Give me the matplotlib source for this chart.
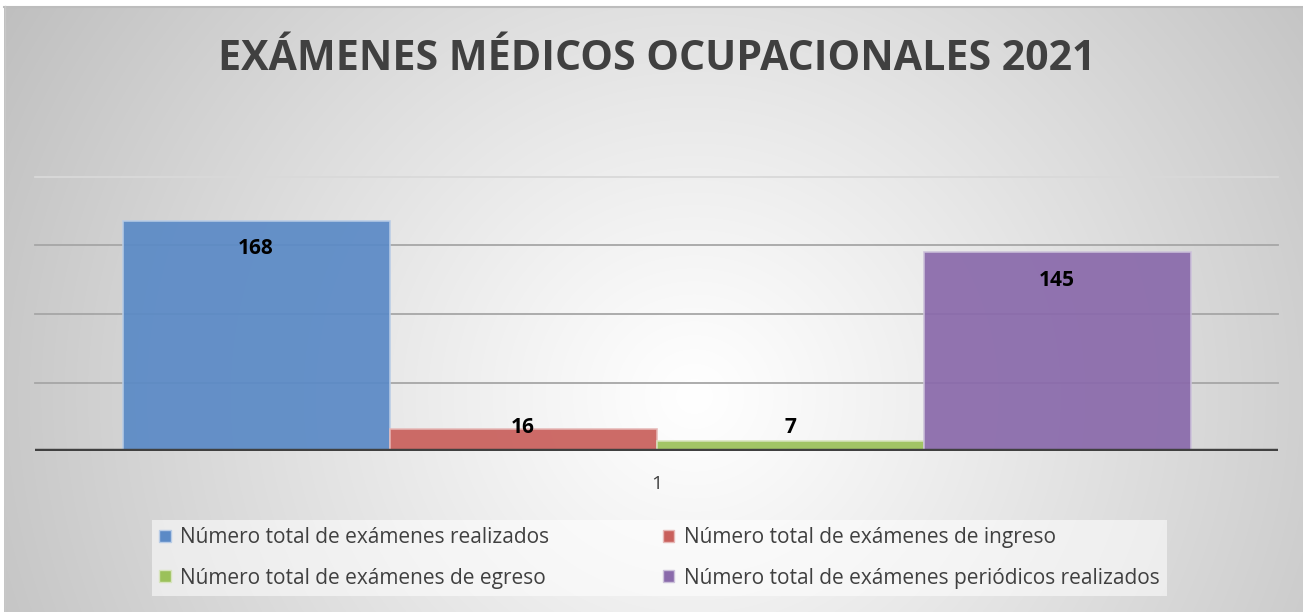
import numpy as np
import matplotlib
matplotlib.use("Agg")
import matplotlib.pyplot as plt
from matplotlib.patches import Patch

# ---- data ----
title = "EXÁMENES MÉDICOS OCUPACIONALES 2021"
series_names = [
    "Número total de exámenes realizados",
    "Número total de exámenes de ingreso",
    "Número total de exámenes de egreso",
    "Número total de exámenes periódicos realizados",
]
values = [168, 16, 7, 145]
category_label = "1"
colors = ["#5b8ac6", "#c9605c", "#9bc15a", "#8a6aab"]
edge_colors = ["#b8cce6", "#e6b8b7", "#d7e4bd", "#ccc1da"]

plt.rcParams['font.family'] = ['Open Sans', 'DejaVu Sans']

W, H = 1303, 612
fig = plt.figure(figsize=(W / 100, H / 100), dpi=100)
fig.patch.set_facecolor("white")

# background radial gradient
bg = fig.add_axes([4 / W, 0, 1 - 4 / W, 1 - 6 / H])
bg.set_axis_off()
yy, xx = np.mgrid[0:606, 0:1299]
cx, cy = 690, 390
d = np.sqrt(((xx - cx) / 1.0) ** 2 + ((yy - cy) / 0.95) ** 2)
c = 1 - 0.25 * np.clip(d / 800, 0, 1) ** 1.1
img = np.dstack([c, c, c])
bg.imshow(img, aspect="auto", extent=[0, 1, 0, 1], origin="upper")
bg.set_xlim(0, 1)
bg.set_ylim(0, 1)
fig.add_artist(plt.Line2D([4 / W, 1], [1 - 6.5 / H, 1 - 6.5 / H],
                          transform=fig.transFigure, color="#bdbdbd", lw=1.5))
fig.add_artist(plt.Line2D([4.5 / W, 4.5 / W], [0, 1 - 6 / H],
                          transform=fig.transFigure, color="#c8c8c8", lw=1))

# main axes
left, right = 35, 1278
base, top = 451, 177
ax = fig.add_axes([left / W, (H - base) / H, (right - left) / W, (base - top) / H])
ax.patch.set_alpha(0)
n = len(values)
xs = np.arange(n) - (n - 1) / 2
bw = 267
half = (right - left) / 2 / bw
ax.set_xlim(-half, half)
ax.set_ylim(0, 200)
for g, col in zip([50, 100, 150, 200], ["#a6a6a6", "#a6a6a6", "#a6a6a6", "#d9d9d9"]):
    ax.axhline(g, color=col, lw=1.3, zorder=1, clip_on=False)
bars = ax.bar(xs, values, width=1.0, color=colors, edgecolor=edge_colors,
              linewidth=1.2, alpha=0.93, zorder=2)
ax.axhline(0, color="#404040", lw=3.2, zorder=3)
for x, v in zip(xs, values):
    ly = max(v - 20.5, 17.5)
    ax.text(x, ly, str(v), ha="center", va="center", fontsize=15,
            fontweight="bold", color="black", zorder=4)
for s in ax.spines.values():
    s.set_visible(False)
ax.set_yticks([])
ax.set_xticks([0])
ax.set_xticklabels([category_label], fontsize=14, color="#404040")
ax.tick_params(axis="x", length=0, pad=17)

fig.text(657 / W, 1 - 59 / H, title, ha="center", va="center",
         fontsize=29.6, fontweight="bold", color="#404040")

# legend
handles = [Patch(facecolor=cc, edgecolor=ec, lw=1) for cc, ec in zip(colors, edge_colors)]
order = [0, 2, 1, 3]
leg = fig.legend([handles[i] for i in order], [series_names[i] for i in order],
                 ncol=2, loc="center", bbox_to_anchor=(659.5 / W, 1 - 558 / H),
                 frameon=True, fontsize=15, handlelength=0.55, handleheight=0.55,
                 handletextpad=0.45, columnspacing=5.45, labelspacing=0.92,
                 borderpad=0.35, fancybox=False)
leg.get_frame().set_facecolor("white")
leg.get_frame().set_alpha(0.55)
leg.get_frame().set_edgecolor("none")
for t in leg.get_texts():
    t.set_color("#404040")

fig.savefig("out.png", dpi=100)
